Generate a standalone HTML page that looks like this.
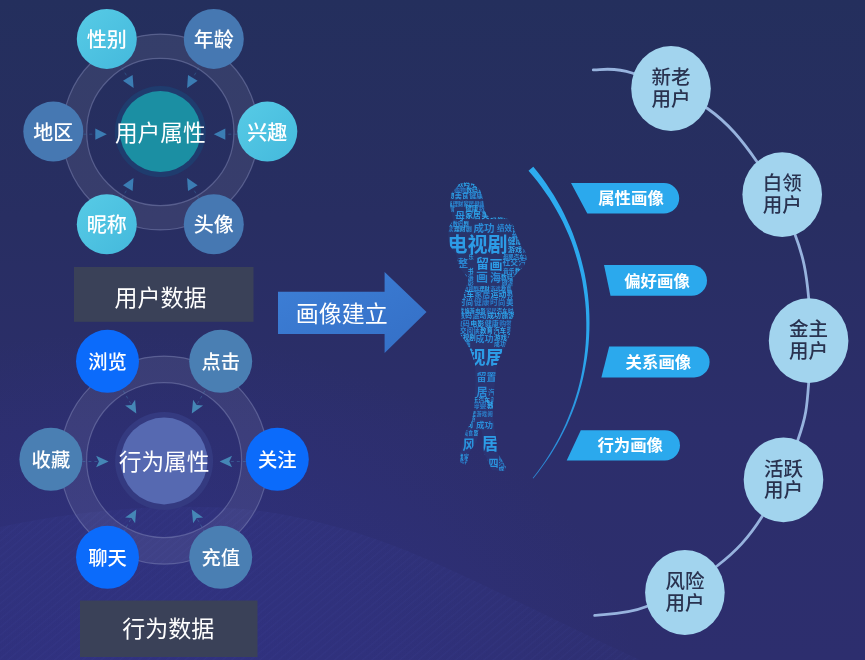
<!DOCTYPE html>
<html lang="zh-CN">
<head>
<meta charset="utf-8">
<title>用户画像</title>
<style>
html,body{margin:0;padding:0;background:#262f62;}
body{width:865px;height:660px;overflow:hidden;font-family:"Liberation Sans","Noto Sans CJK SC",sans-serif;}
svg{display:block;font-family:"Liberation Sans","Noto Sans CJK SC",sans-serif;will-change:transform;}
</style>
</head>
<body>
<svg width="865" height="660" viewBox="0 0 865 660">
<defs>
<linearGradient id="gbg" x1="0" y1="0" x2="0" y2="1">
<stop offset="0" stop-color="#242f5d"/>
<stop offset="0.33" stop-color="#282e62"/>
<stop offset="0.65" stop-color="#2c2e6b"/>
<stop offset="1" stop-color="#2d2e6e"/>
</linearGradient>
<radialGradient id="gbl" cx="0.15" cy="1.1" r="0.6">
<stop offset="0" stop-color="#34359a" stop-opacity="0.42"/>
<stop offset="0.55" stop-color="#34359a" stop-opacity="0.25"/>
<stop offset="1" stop-color="#34359a" stop-opacity="0"/>
</radialGradient>
<linearGradient id="ghill" x1="0" y1="0" x2="0" y2="1">
<stop offset="0" stop-color="#3a3f98" stop-opacity="0.16"/>
<stop offset="1" stop-color="#363a90" stop-opacity="0.1"/>
</linearGradient>
<pattern id="pstripe" width="6" height="6" patternUnits="userSpaceOnUse" patternTransform="rotate(-40)">
<rect width="6" height="1.2" fill="#4a52b0" fill-opacity="0.35"/>
</pattern>
<linearGradient id="gcres" gradientUnits="userSpaceOnUse" x1="0" y1="166" x2="0" y2="479">
<stop offset="0" stop-color="#2dacef"/>
<stop offset="0.6" stop-color="#2ba6ec"/>
<stop offset="1" stop-color="#2a86d4"/>
</linearGradient>
<linearGradient id="gcy" x1="0" y1="0" x2="1" y2="1">
<stop offset="0" stop-color="#57cbe6"/>
<stop offset="1" stop-color="#44b9dc"/>
</linearGradient>
<linearGradient id="garrow" x1="0" y1="0" x2="1" y2="1">
<stop offset="0" stop-color="#3d7fd6"/>
<stop offset="1" stop-color="#346fc6"/>
</linearGradient>
</defs>
<rect width="865" height="660" fill="url(#gbg)"/>
<rect width="865" height="660" fill="url(#gbl)"/>
<path d="M0,527 C90,508 190,501 268,512 C350,525 410,551 453,571 C515,599 575,630 640,660 L0,660 Z" fill="url(#ghill)"/>
<path d="M0,527 C90,508 190,501 268,512 C350,525 410,551 453,571 C515,599 575,630 640,660 L0,660 Z" fill="url(#pstripe)" opacity="0.25"/>
<circle cx="160.3" cy="132.0" r="85.75" fill="none" stroke="#ffffff" stroke-opacity="0.075" stroke-width="24.30000000000001"/>
<circle cx="160.3" cy="132.0" r="97.9" fill="none" stroke="#8f96c4" stroke-opacity="0.42" stroke-width="1.2"/>
<circle cx="160.3" cy="132.0" r="73.6" fill="none" stroke="#8f96c4" stroke-opacity="0.42" stroke-width="1.2"/>
<line x1="121.8" y1="67.5" x2="129.1" y2="80.1" stroke="#3b7db4" stroke-opacity="0.4" stroke-width="1" stroke-dasharray="3 3"/>
<polygon points="133.6,87.9 132.6,75.1 123.0,80.7" fill="#3b7db4"/>
<line x1="198.8" y1="67.5" x2="191.6" y2="80.1" stroke="#3b7db4" stroke-opacity="0.4" stroke-width="1" stroke-dasharray="3 3"/>
<polygon points="187.1,87.9 197.6,80.7 188.0,75.1" fill="#3b7db4"/>
<line x1="237.3" y1="134.2" x2="222.8" y2="134.2" stroke="#3b7db4" stroke-opacity="0.4" stroke-width="1" stroke-dasharray="3 3"/>
<polygon points="213.8,134.2 225.3,139.8 225.3,128.6" fill="#3b7db4"/>
<line x1="198.8" y1="198.5" x2="191.6" y2="185.9" stroke="#3b7db4" stroke-opacity="0.4" stroke-width="1" stroke-dasharray="3 3"/>
<polygon points="187.1,178.1 188.0,190.9 197.6,185.3" fill="#3b7db4"/>
<line x1="121.8" y1="198.5" x2="129.0" y2="185.9" stroke="#3b7db4" stroke-opacity="0.4" stroke-width="1" stroke-dasharray="3 3"/>
<polygon points="133.5,178.1 123.0,185.3 132.6,190.9" fill="#3b7db4"/>
<line x1="83.3" y1="134.2" x2="97.8" y2="134.2" stroke="#3b7db4" stroke-opacity="0.4" stroke-width="1" stroke-dasharray="3 3"/>
<polygon points="106.8,134.2 95.3,128.6 95.3,139.8" fill="#3b7db4"/>
<circle cx="160.3" cy="131.6" r="45.5" fill="#1f3c6e"/>
<circle cx="160.3" cy="131.6" r="40.5" fill="#1b8fa3"/>
<text x="160.3" y="140.8" font-size="22.7" fill="#fff" text-anchor="middle">用户属性</text>
<circle cx="106.8" cy="38.9" r="30" fill="url(#gcy)"/>
<text x="106.8" y="47.0" font-size="20" font-weight="500" fill="#fff" text-anchor="middle">性别</text>
<circle cx="213.8" cy="38.9" r="30" fill="#4678b2"/>
<text x="213.8" y="47.0" font-size="20" font-weight="500" fill="#fff" text-anchor="middle">年龄</text>
<circle cx="267.3" cy="131.6" r="30" fill="url(#gcy)"/>
<text x="267.3" y="139.7" font-size="20" font-weight="500" fill="#fff" text-anchor="middle">兴趣</text>
<circle cx="213.8" cy="224.3" r="30" fill="#4678b2"/>
<text x="213.8" y="232.4" font-size="20" font-weight="500" fill="#fff" text-anchor="middle">头像</text>
<circle cx="106.8" cy="224.3" r="30" fill="url(#gcy)"/>
<text x="106.8" y="232.4" font-size="20" font-weight="500" fill="#fff" text-anchor="middle">昵称</text>
<circle cx="53.3" cy="131.6" r="30" fill="#4678b2"/>
<text x="53.3" y="139.7" font-size="20" font-weight="500" fill="#fff" text-anchor="middle">地区</text>
<circle cx="164.1" cy="460.1" r="90.75" fill="none" stroke="#ffffff" stroke-opacity="0.075" stroke-width="26.5"/>
<circle cx="164.1" cy="460.1" r="104" fill="none" stroke="#8f96c4" stroke-opacity="0.42" stroke-width="1.2"/>
<circle cx="164.1" cy="460.1" r="77.5" fill="none" stroke="#8f96c4" stroke-opacity="0.42" stroke-width="1.2"/>
<line x1="123.3" y1="390.7" x2="131.9" y2="405.6" stroke="#4587b6" stroke-opacity="0.4" stroke-width="1" stroke-dasharray="3 3"/>
<polygon points="136.3,413.4 135.1,399.7 131.5,405.0 125.1,405.5" fill="#4587b6"/>
<line x1="204.9" y1="390.7" x2="196.3" y2="405.6" stroke="#4587b6" stroke-opacity="0.4" stroke-width="1" stroke-dasharray="3 3"/>
<polygon points="191.8,413.4 203.1,405.5 196.7,405.0 193.1,399.7" fill="#4587b6"/>
<line x1="245.8" y1="461.5" x2="228.6" y2="461.5" stroke="#4587b6" stroke-opacity="0.4" stroke-width="1" stroke-dasharray="3 3"/>
<polygon points="219.6,461.5 232.1,467.3 229.3,461.5 232.1,455.7" fill="#4587b6"/>
<line x1="204.9" y1="532.3" x2="196.3" y2="517.4" stroke="#4587b6" stroke-opacity="0.4" stroke-width="1" stroke-dasharray="3 3"/>
<polygon points="191.8,509.6 193.1,523.3 196.7,518.0 203.1,517.5" fill="#4587b6"/>
<line x1="123.2" y1="532.3" x2="131.8" y2="517.4" stroke="#4587b6" stroke-opacity="0.4" stroke-width="1" stroke-dasharray="3 3"/>
<polygon points="136.3,509.6 125.1,517.5 131.5,518.0 135.1,523.3" fill="#4587b6"/>
<line x1="82.4" y1="461.5" x2="99.6" y2="461.5" stroke="#4587b6" stroke-opacity="0.4" stroke-width="1" stroke-dasharray="3 3"/>
<polygon points="108.6,461.5 96.1,455.7 98.9,461.5 96.1,467.3" fill="#4587b6"/>
<circle cx="164.1" cy="461.0" r="49" fill="#343a80"/>
<circle cx="164.1" cy="461.0" r="43.4" fill="#5669b1"/>
<text x="164.1" y="469.9" font-size="22.7" fill="#fff" text-anchor="middle">行为属性</text>
<circle cx="107.5" cy="361.3" r="31.5" fill="#0b6bfb"/>
<text x="107.5" y="369.1" font-size="19.3" font-weight="500" fill="#fff" text-anchor="middle">浏览</text>
<circle cx="220.7" cy="361.3" r="31.5" fill="#4a7fb3"/>
<text x="220.7" y="369.1" font-size="19.3" font-weight="500" fill="#fff" text-anchor="middle">点击</text>
<circle cx="277.3" cy="459.3" r="31.5" fill="#0b6bfb"/>
<text x="277.3" y="467.1" font-size="19.3" font-weight="500" fill="#fff" text-anchor="middle">关注</text>
<circle cx="220.7" cy="557.3" r="31.5" fill="#4a7fb3"/>
<text x="220.7" y="565.2" font-size="19.3" font-weight="500" fill="#fff" text-anchor="middle">充值</text>
<circle cx="107.5" cy="557.3" r="31.5" fill="#0b6bfb"/>
<text x="107.5" y="565.2" font-size="19.3" font-weight="500" fill="#fff" text-anchor="middle">聊天</text>
<circle cx="50.9" cy="459.3" r="31.5" fill="#4a7fb3"/>
<text x="50.9" y="467.1" font-size="19.3" font-weight="500" fill="#fff" text-anchor="middle">收藏</text>
<rect x="74" y="267" width="179.5" height="54.8" fill="#3a4158"/>
<text x="160.5" y="305.7" font-size="23" fill="#fff" text-anchor="middle">用户数据</text>
<rect x="80" y="600.5" width="177.5" height="56.5" fill="#3a4158"/>
<text x="168.3" y="637.3" font-size="23" fill="#fff" text-anchor="middle">行为数据</text>
<polygon points="278,291.8 384.6,291.8 384.6,271.9 426.5,312 384.6,353 384.6,334 278,334" fill="url(#garrow)"/>
<text x="341.8" y="322.2" font-size="23" fill="#fff" text-anchor="middle">画像建立</text>
<path d="M533.3,166.7 L537.8,172.2 L542.0,177.8 L546.1,183.5 L550.0,189.4 L553.8,195.3 L557.4,201.4 L560.8,207.6 L564.0,213.8 L567.0,220.2 L569.9,226.6 L572.6,233.1 L575.0,239.7 L577.3,246.4 L579.4,253.1 L581.3,259.9 L583.0,266.7 L584.6,273.6 L585.9,280.5 L587.0,287.5 L587.9,294.5 L588.6,301.5 L589.1,308.5 L589.4,315.5 L589.5,322.6 L589.4,329.6 L589.1,336.6 L588.6,343.7 L587.9,350.7 L587.0,357.7 L585.8,364.6 L584.5,371.5 L583.0,378.4 L581.3,385.2 L579.4,392.0 L577.3,398.7 L575.0,405.4 L572.5,412.0 L569.8,418.5 L567.0,424.9 L563.9,431.3 L560.7,437.5 L557.3,443.7 L553.7,449.8 L550.0,455.7 L546.0,461.6 L541.9,467.3 L537.7,472.9 L533.3,478.4 L532.7,478.0 L537.0,472.4 L541.2,466.8 L545.2,461.0 L549.0,455.1 L552.7,449.1 L556.1,443.1 L559.4,436.9 L562.6,430.6 L565.5,424.2 L568.2,417.8 L570.8,411.3 L573.2,404.7 L575.4,398.1 L577.4,391.4 L579.2,384.7 L580.8,377.9 L582.2,371.0 L583.3,364.2 L584.3,357.3 L585.1,350.4 L585.7,343.4 L586.1,336.5 L586.3,329.5 L586.3,322.6 L586.1,315.6 L585.8,308.7 L585.2,301.8 L584.4,294.9 L583.4,288.0 L582.3,281.1 L580.9,274.3 L579.3,267.6 L577.6,260.9 L575.6,254.2 L573.5,247.6 L571.2,241.1 L568.6,234.7 L565.8,228.4 L562.9,222.1 L559.7,216.0 L556.4,209.9 L552.9,203.9 L549.3,198.1 L545.4,192.4 L541.4,186.8 L537.3,181.3 L533.0,175.9 L528.5,170.7 Z" fill="url(#gcres)"/>
<path d="M571,183 L663.9000000000001,183 A15.299999999999997,15.299999999999997 0 0 1 663.9000000000001,213.6 L587.3,213.6 Z" fill="#2ba9ed"/>
<text x="631" y="204.1" font-size="16.4" font-weight="bold" fill="#fff" text-anchor="middle">属性画像</text>
<path d="M604,265 L691.6,265 A15.400000000000006,15.400000000000006 0 0 1 691.6,295.8 L610.5,295.8 Z" fill="#2ba9ed"/>
<text x="657" y="287.3" font-size="16.4" font-weight="bold" fill="#fff" text-anchor="middle">偏好画像</text>
<path d="M609.2,346.5 L694.1500000000001,346.5 A15.449999999999989,15.449999999999989 0 0 1 694.1500000000001,377.4 L601.4,377.4 Z" fill="#2ba9ed"/>
<text x="658.4" y="368.4" font-size="16.4" font-weight="bold" fill="#fff" text-anchor="middle">关系画像</text>
<path d="M580.8,430.2 L664.9,430.2 A15.099999999999994,15.099999999999994 0 0 1 664.9,460.4 L566.7,460.4 Z" fill="#2ba9ed"/>
<text x="630.2" y="451.4" font-size="16.4" font-weight="bold" fill="#fff" text-anchor="middle">行为画像</text>
<path d="M593.3,69.8 C599.8,70.3 613.0,66.5 632.0,73.0 C651.0,79.5 686.7,93.8 707.5,108.5 C728.3,123.2 742.1,140.3 756.6,161.2 C771.1,182.1 786.1,211.3 794.8,234.0 C803.5,256.7 806.3,272.3 808.6,297.3 C810.9,322.3 810.3,360.4 808.6,384.0 C806.9,407.6 806.0,416.8 798.2,439.0 C790.4,461.2 775.3,495.8 761.8,517.0 C748.3,538.2 736.3,551.0 717.0,566.0 C697.7,581.0 666.3,598.6 645.9,606.8 C625.5,615.0 603.2,614.0 594.7,615.4" fill="none" stroke="#97b3de" stroke-width="2.8" stroke-linecap="round"/>
<ellipse cx="671" cy="88.5" rx="39.8" ry="42.4" fill="#a2d4ee"/>
<text x="671" y="84.2" font-size="19.5" font-weight="500" fill="#29324f" text-anchor="middle">新老</text>
<text x="671" y="106.0" font-size="19.5" font-weight="500" fill="#29324f" text-anchor="middle">用户</text>
<ellipse cx="782.2" cy="194.6" rx="39.8" ry="42.4" fill="#a2d4ee"/>
<text x="782.2" y="190.3" font-size="19.5" font-weight="500" fill="#29324f" text-anchor="middle">白领</text>
<text x="782.2" y="212.1" font-size="19.5" font-weight="500" fill="#29324f" text-anchor="middle">用户</text>
<ellipse cx="808.6" cy="340.7" rx="39.8" ry="42.4" fill="#a2d4ee"/>
<text x="808.6" y="336.4" font-size="19.5" font-weight="500" fill="#29324f" text-anchor="middle">金主</text>
<text x="808.6" y="358.2" font-size="19.5" font-weight="500" fill="#29324f" text-anchor="middle">用户</text>
<ellipse cx="783.5" cy="479.8" rx="39.8" ry="42.4" fill="#a2d4ee"/>
<text x="783.5" y="475.5" font-size="19.5" font-weight="500" fill="#29324f" text-anchor="middle">活跃</text>
<text x="783.5" y="497.3" font-size="19.5" font-weight="500" fill="#29324f" text-anchor="middle">用户</text>
<ellipse cx="684.9" cy="592.5" rx="39.8" ry="42.4" fill="#a2d4ee"/>
<text x="684.9" y="588.2" font-size="19.5" font-weight="500" fill="#29324f" text-anchor="middle">风险</text>
<text x="684.9" y="610.0" font-size="19.5" font-weight="500" fill="#29324f" text-anchor="middle">用户</text>
<clipPath id="sil"><path d="M466,182 L474,184 L480,190 L483,198 L484,206 L486,214 L490,218 L500,217 L508,219 L513,225 L516,234 L520,243 L525,251 L527,259 L524,266 L518,272 L513,278 L512,290 L513,302 L514,315 L511,322 L510,334 L506,344 L502,352 L497,364 L495,380 L493,405 L493,420 L495,432 L496.5,441 L497.6,453 L502,460 L506,467 L504,471 L492,470 L488,461 L484,453 L483,441 L482,432 L480,428 L478,432 L477,441 L469,453 L467.5,461 L465,465 L460,462 L460.5,453 L463.5,441 L466,431 L472,421 L474.5,405 L475.5,380 L475,364 L471,352 L467,344 L460,334 L461,320 L461.5,315 L461,303 L465,291 L468.5,279 L459,267 L456,254 L450,246 L448,236 L449.5,226 L453,220 L450,205 L451.5,193 L459,184 Z"/></clipPath>
<g clip-path="url(#sil)" font-weight="bold">
<rect x="440" y="175" width="95" height="300" fill="#2a7bc8" fill-opacity="0.09"/>
<text x="443.8" y="185.5" font-size="6.4" fill="#2ca2e8">理财</text>
<text x="457.1" y="185.5" font-size="6.4" fill="#2ca2e8">数码</text>
<text x="470.4" y="185.5" font-size="6.4" fill="#2ca2e8">电影</text>
<text x="483.7" y="185.5" font-size="6.4" fill="#2ca2e8">电影</text>
<text x="497.0" y="185.5" font-size="6.4" fill="#2ca2e8">健康</text>
<text x="510.3" y="185.5" font-size="6.4" fill="#2b84cf">社交</text>
<text x="523.6" y="185.5" font-size="6.4" fill="#2b84cf">音乐</text>
<text x="442.0" y="192.2" font-size="5.8" fill="#2a78c4">健康</text>
<text x="454.1" y="192.2" font-size="5.8" fill="#2a78c4">购物</text>
<text x="466.2" y="192.2" font-size="5.8" fill="#2ca2e8">数码</text>
<text x="478.3" y="192.2" font-size="5.8" fill="#30a6ec">家居</text>
<text x="490.4" y="192.2" font-size="5.8" fill="#2b84cf">教育</text>
<text x="502.5" y="192.2" font-size="5.8" fill="#30a6ec">时尚</text>
<text x="514.6" y="192.2" font-size="5.8" fill="#2ca2e8">母婴</text>
<text x="526.7" y="192.2" font-size="5.8" fill="#2ca2e8">运动</text>
<text x="440.2" y="198.2" font-size="7" fill="#2ca2e8">购物</text>
<text x="454.7" y="198.2" font-size="7" fill="#2c94de">美食</text>
<text x="469.2" y="198.2" font-size="7" fill="#2b8cd6">健康</text>
<text x="483.7" y="198.2" font-size="7" fill="#2b8cd6">旅游</text>
<text x="498.2" y="198.2" font-size="7" fill="#2b8cd6">电视剧</text>
<text x="519.7" y="198.2" font-size="7" fill="#2b84cf">教育</text>
<text x="441.8" y="205.5" font-size="5.2" fill="#30a6ec">健康</text>
<text x="452.7" y="205.5" font-size="5.2" fill="#2b8cd6">理财</text>
<text x="463.6" y="205.5" font-size="5.2" fill="#2b8cd6">家居</text>
<text x="474.5" y="205.5" font-size="5.2" fill="#2b84cf">健康</text>
<text x="485.4" y="205.5" font-size="5.2" fill="#30a6ec">理财</text>
<text x="496.3" y="205.5" font-size="5.2" fill="#2a78c4">家居</text>
<text x="507.2" y="205.5" font-size="5.2" fill="#30a6ec">母婴</text>
<text x="518.1" y="205.5" font-size="5.2" fill="#2b8cd6">美食</text>
<text x="529.0" y="205.5" font-size="5.2" fill="#2ca2e8">健康</text>
<text x="442.1" y="210.9" font-size="6.4" fill="#2b8cd6">美食</text>
<text x="465.4" y="210.9" font-size="6.4" fill="#2ca2e8">健康</text>
<text x="478.7" y="210.9" font-size="6.4" fill="#2a78c4">数码</text>
<text x="492.0" y="210.9" font-size="6.4" fill="#2a78c4">音乐</text>
<text x="505.3" y="210.9" font-size="6.4" fill="#30a6ec">健康</text>
<text x="518.6" y="210.9" font-size="6.4" fill="#2b8cd6">社交</text>
<text x="442.0" y="217.6" font-size="7.8" fill="#30a6ec">视</text>
<text x="465.3" y="217.6" font-size="7.8" fill="#2ca2e8">家居</text>
<text x="481.4" y="217.6" font-size="7.8" fill="#30a6ec">美食</text>
<text x="497.5" y="217.6" font-size="7.8" fill="#2ca2e8">旅游</text>
<text x="513.6" y="217.6" font-size="7.8" fill="#2ca2e8">游戏</text>
<text x="529.7" y="217.6" font-size="7.8" fill="#2c94de">母婴</text>
<text x="441.8" y="225.6" font-size="5.2" fill="#2ca2e8">阅读</text>
<text x="452.7" y="225.6" font-size="5.2" fill="#2b8cd6">数码</text>
<text x="463.6" y="225.6" font-size="5.2" fill="#30a6ec">剧</text>
<text x="512.3" y="225.6" font-size="5.2" fill="#30a6ec">健康</text>
<text x="523.2" y="225.6" font-size="5.2" fill="#2b8cd6">直播</text>
<text x="441.9" y="231.1" font-size="5.8" fill="#2a78c4">阅读</text>
<text x="454.0" y="231.1" font-size="5.8" fill="#30a6ec">理财</text>
<text x="466.1" y="231.1" font-size="5.8" fill="#2c94de">剧</text>
<text x="512.4" y="231.1" font-size="5.8" fill="#30a6ec">汽车</text>
<text x="524.5" y="231.1" font-size="5.8" fill="#2a78c4">美食</text>
<text x="511.8" y="237.1" font-size="6.4" fill="#2b8cd6">母婴</text>
<text x="525.1" y="237.1" font-size="6.4" fill="#2a78c4">成功</text>
<text x="507.7" y="243.8" font-size="7.8" fill="#30a6ec">健康</text>
<text x="523.8" y="243.8" font-size="7.8" fill="#2ca2e8">时尚</text>
<text x="508.0" y="251.8" font-size="7" fill="#30a6ec">游戏</text>
<text x="522.5" y="251.8" font-size="7" fill="#2b84cf">家居</text>
<text x="442.5" y="259.1" font-size="5.2" fill="#2c94de">音乐</text>
<text x="468.4" y="259.1" font-size="5.2" fill="#2ca2e8">乐</text>
<text x="503.1" y="259.1" font-size="5.2" fill="#2c94de">母婴</text>
<text x="514.0" y="259.1" font-size="5.2" fill="#2ca2e8">汽车</text>
<text x="524.9" y="259.1" font-size="5.2" fill="#2b8cd6">旅游</text>
<text x="442.4" y="264.5" font-size="7.8" fill="#2ca2e8">游戏</text>
<text x="502.5" y="264.5" font-size="7.8" fill="#2b8cd6">社交</text>
<text x="518.6" y="264.5" font-size="7.8" fill="#2b84cf">汽车</text>
<text x="441.6" y="272.6" font-size="5.8" fill="#2ca2e8">数码</text>
<text x="467.7" y="272.6" font-size="5.8" fill="#2ca2e8">书</text>
<text x="503.0" y="272.6" font-size="5.8" fill="#2c94de">音乐</text>
<text x="515.1" y="272.6" font-size="5.8" fill="#2ca2e8">数码</text>
<text x="527.2" y="272.6" font-size="5.8" fill="#2ca2e8">数码</text>
<text x="443.6" y="278.6" font-size="5.8" fill="#2ca2e8">美食</text>
<text x="455.7" y="278.6" font-size="5.8" fill="#2a78c4">运动</text>
<text x="467.8" y="278.6" font-size="5.8" fill="#2b84cf">海</text>
<text x="501.1" y="278.6" font-size="5.8" fill="#2ca2e8">数码</text>
<text x="513.2" y="278.6" font-size="5.8" fill="#30a6ec">音乐</text>
<text x="525.3" y="278.6" font-size="5.8" fill="#30a6ec">理财</text>
<text x="440.9" y="284.7" font-size="6.4" fill="#2b8cd6">电影</text>
<text x="454.2" y="284.7" font-size="6.4" fill="#2a78c4">游戏</text>
<text x="467.5" y="284.7" font-size="6.4" fill="#2b84cf">影</text>
<text x="501.4" y="284.7" font-size="6.4" fill="#2b8cd6">旅游</text>
<text x="514.7" y="284.7" font-size="6.4" fill="#2c94de">家居</text>
<text x="528.0" y="284.7" font-size="6.4" fill="#2b84cf">美食</text>
<text x="441.4" y="291.3" font-size="5.2" fill="#2c94de">电影</text>
<text x="452.3" y="291.3" font-size="5.2" fill="#2ca2e8">理财</text>
<text x="463.2" y="291.3" font-size="5.2" fill="#2b84cf">电视剧</text>
<text x="479.3" y="291.3" font-size="5.2" fill="#2ca2e8">理财</text>
<text x="490.2" y="291.3" font-size="5.2" fill="#2a78c4">游戏</text>
<text x="501.1" y="291.3" font-size="5.2" fill="#2c94de">教育</text>
<text x="512.0" y="291.3" font-size="5.2" fill="#2ca2e8">美食</text>
<text x="522.9" y="291.3" font-size="5.2" fill="#2ca2e8">阅读</text>
<text x="442.4" y="296.8" font-size="7.8" fill="#2ca2e8">汽车</text>
<text x="458.5" y="296.8" font-size="7.8" fill="#2ca2e8">汽车</text>
<text x="474.6" y="296.8" font-size="7.8" fill="#2b84cf">家居</text>
<text x="490.7" y="296.8" font-size="7.8" fill="#2ca2e8">运动</text>
<text x="506.8" y="296.8" font-size="7.8" fill="#2b8cd6">教育</text>
<text x="522.9" y="296.8" font-size="7.8" fill="#2b8cd6">音乐</text>
<text x="441.7" y="304.8" font-size="7.8" fill="#2ca2e8">家居</text>
<text x="457.8" y="304.8" font-size="7.8" fill="#2b8cd6">时尚</text>
<text x="473.9" y="304.8" font-size="7.8" fill="#2a78c4">健康</text>
<text x="490.0" y="304.8" font-size="7.8" fill="#2a78c4">时尚</text>
<text x="506.1" y="304.8" font-size="7.8" fill="#2b8cd6">美食</text>
<text x="522.2" y="304.8" font-size="7.8" fill="#2a78c4">数码</text>
<text x="442.6" y="312.9" font-size="5.2" fill="#2c94de">健康</text>
<text x="453.5" y="312.9" font-size="5.2" fill="#30a6ec">游戏</text>
<text x="464.4" y="312.9" font-size="5.2" fill="#2ca2e8">旅游</text>
<text x="475.3" y="312.9" font-size="5.2" fill="#2ca2e8">电影</text>
<text x="486.2" y="312.9" font-size="5.2" fill="#2a78c4">家居</text>
<text x="497.1" y="312.9" font-size="5.2" fill="#30a6ec">汽车</text>
<text x="508.0" y="312.9" font-size="5.2" fill="#2c94de">时尚</text>
<text x="518.9" y="312.9" font-size="5.2" fill="#2b84cf">理财</text>
<text x="529.8" y="312.9" font-size="5.2" fill="#2a78c4">阅读</text>
<text x="443.4" y="318.3" font-size="7" fill="#2c94de">运动</text>
<text x="457.9" y="318.3" font-size="7" fill="#2c94de">数码</text>
<text x="472.4" y="318.3" font-size="7" fill="#2b8cd6">运动</text>
<text x="486.9" y="318.3" font-size="7" fill="#30a6ec">成功</text>
<text x="501.4" y="318.3" font-size="7" fill="#2ca2e8">旅游</text>
<text x="515.9" y="318.3" font-size="7" fill="#2a78c4">数码</text>
<text x="441.2" y="325.6" font-size="7" fill="#2c94de">汽车</text>
<text x="455.7" y="325.6" font-size="7" fill="#2b84cf">数码</text>
<text x="470.2" y="325.6" font-size="7" fill="#2ca2e8">电影</text>
<text x="484.7" y="325.6" font-size="7" fill="#2b8cd6">健康</text>
<text x="499.2" y="325.6" font-size="7" fill="#2a78c4">购物</text>
<text x="513.7" y="325.6" font-size="7" fill="#2b8cd6">汽车</text>
<text x="528.2" y="325.6" font-size="7" fill="#30a6ec">教育</text>
<text x="440.2" y="332.8" font-size="6.4" fill="#30a6ec">购物</text>
<text x="453.5" y="332.8" font-size="6.4" fill="#2b8cd6">社交</text>
<text x="466.8" y="332.8" font-size="6.4" fill="#2b84cf">阅读</text>
<text x="480.1" y="332.8" font-size="6.4" fill="#30a6ec">教育</text>
<text x="493.4" y="332.8" font-size="6.4" fill="#30a6ec">汽车</text>
<text x="506.7" y="332.8" font-size="6.4" fill="#2b8cd6">理财</text>
<text x="520.0" y="332.8" font-size="6.4" fill="#2b84cf">音乐</text>
<text x="443.1" y="339.5" font-size="6.4" fill="#2c94de">汽车</text>
<text x="456.4" y="339.5" font-size="6.4" fill="#30a6ec">电视剧</text>
<text x="494.1" y="339.5" font-size="6.4" fill="#2ca2e8">游戏</text>
<text x="507.4" y="339.5" font-size="6.4" fill="#2ca2e8">美食</text>
<text x="520.7" y="339.5" font-size="6.4" fill="#2c94de">健康</text>
<text x="440.6" y="346.1" font-size="5.8" fill="#2ca2e8">电影</text>
<text x="452.7" y="346.1" font-size="5.8" fill="#2b8cd6">购物</text>
<text x="464.8" y="346.1" font-size="5.8" fill="#2c94de">画</text>
<text x="494.1" y="346.1" font-size="5.8" fill="#2b8cd6">成功</text>
<text x="506.2" y="346.1" font-size="5.8" fill="#2b84cf">直播</text>
<text x="518.3" y="346.1" font-size="5.8" fill="#2ca2e8">美食</text>
<text x="440.6" y="352.2" font-size="5.8" fill="#2b8cd6">数码</text>
<text x="452.7" y="352.2" font-size="5.8" fill="#30a6ec">电影</text>
<text x="503.8" y="352.2" font-size="5.8" fill="#2a78c4">游戏</text>
<text x="515.9" y="352.2" font-size="5.8" fill="#2ca2e8">运动</text>
<text x="528.0" y="352.2" font-size="5.8" fill="#2b8cd6">直播</text>
<text x="443.1" y="358.2" font-size="5.2" fill="#2a78c4">理财</text>
<text x="454.0" y="358.2" font-size="5.2" fill="#2a78c4">美食</text>
<text x="503.9" y="358.2" font-size="5.2" fill="#2b84cf">理财</text>
<text x="514.8" y="358.2" font-size="5.2" fill="#2ca2e8">电影</text>
<text x="525.7" y="358.2" font-size="5.2" fill="#2ca2e8">汽车</text>
<text x="442.6" y="363.7" font-size="7.8" fill="#30a6ec">教育</text>
<text x="458.7" y="363.7" font-size="7.8" fill="#2b84cf">乐</text>
<text x="504.0" y="363.7" font-size="7.8" fill="#2ca2e8">电视剧</text>
<text x="527.9" y="363.7" font-size="7.8" fill="#2b8cd6">美食</text>
<text x="442.7" y="371.7" font-size="7.8" fill="#2ca2e8">电影</text>
<text x="458.8" y="371.7" font-size="7.8" fill="#30a6ec">剧</text>
<text x="504.1" y="371.7" font-size="7.8" fill="#2c94de">母婴</text>
<text x="520.2" y="371.7" font-size="7.8" fill="#2b8cd6">电视剧</text>
<text x="443.8" y="379.8" font-size="7" fill="#30a6ec">电影</text>
<text x="458.3" y="379.8" font-size="7" fill="#30a6ec">旅游</text>
<text x="496.8" y="379.8" font-size="7" fill="#2a78c4">直播</text>
<text x="511.3" y="379.8" font-size="7" fill="#2c94de">旅游</text>
<text x="525.8" y="379.8" font-size="7" fill="#2ca2e8">购物</text>
<text x="441.3" y="387.0" font-size="7.8" fill="#2b8cd6">购物</text>
<text x="457.4" y="387.0" font-size="7.8" fill="#2c94de">电影</text>
<text x="496.5" y="387.0" font-size="7.8" fill="#2ca2e8">理财</text>
<text x="512.6" y="387.0" font-size="7.8" fill="#2c94de">阅读</text>
<text x="528.7" y="387.0" font-size="7.8" fill="#2c94de">健康</text>
<text x="443.1" y="395.1" font-size="7" fill="#2ca2e8">音乐</text>
<text x="457.6" y="395.1" font-size="7" fill="#2b84cf">阅读</text>
<text x="488.1" y="395.1" font-size="7" fill="#2b84cf">汽车</text>
<text x="502.6" y="395.1" font-size="7" fill="#30a6ec">游戏</text>
<text x="517.1" y="395.1" font-size="7" fill="#2ca2e8">成功</text>
<text x="442.2" y="402.3" font-size="5.8" fill="#2c94de">电影</text>
<text x="454.3" y="402.3" font-size="5.8" fill="#2ca2e8">音乐</text>
<text x="466.4" y="402.3" font-size="5.8" fill="#2ca2e8">音乐</text>
<text x="478.5" y="402.3" font-size="5.8" fill="#30a6ec">汽车</text>
<text x="490.6" y="402.3" font-size="5.8" fill="#2b8cd6">美食</text>
<text x="502.7" y="402.3" font-size="5.8" fill="#2a78c4">电影</text>
<text x="514.8" y="402.3" font-size="5.8" fill="#2b8cd6">购物</text>
<text x="526.9" y="402.3" font-size="5.8" fill="#30a6ec">社交</text>
<text x="443.4" y="408.4" font-size="7" fill="#2b8cd6">社交</text>
<text x="457.9" y="408.4" font-size="7" fill="#2b8cd6">时尚</text>
<text x="472.4" y="408.4" font-size="7" fill="#2a78c4">母婴</text>
<text x="486.9" y="408.4" font-size="7" fill="#30a6ec">教育</text>
<text x="501.4" y="408.4" font-size="7" fill="#2a78c4">社交</text>
<text x="515.9" y="408.4" font-size="7" fill="#2ca2e8">数码</text>
<text x="443.8" y="415.6" font-size="5.2" fill="#2ca2e8">旅游</text>
<text x="454.7" y="415.6" font-size="5.2" fill="#2a78c4">电影</text>
<text x="465.6" y="415.6" font-size="5.2" fill="#30a6ec">家居</text>
<text x="476.5" y="415.6" font-size="5.2" fill="#2b84cf">游戏</text>
<text x="487.4" y="415.6" font-size="5.2" fill="#2b84cf">阅读</text>
<text x="498.3" y="415.6" font-size="5.2" fill="#2ca2e8">直播</text>
<text x="509.2" y="415.6" font-size="5.2" fill="#2c94de">运动</text>
<text x="520.1" y="415.6" font-size="5.2" fill="#2b8cd6">时尚</text>
<text x="442.9" y="421.1" font-size="5.2" fill="#30a6ec">旅游</text>
<text x="453.8" y="421.1" font-size="5.2" fill="#2ca2e8">游戏</text>
<text x="464.7" y="421.1" font-size="5.2" fill="#2c94de">旅游</text>
<text x="493.6" y="421.1" font-size="5.2" fill="#2ca2e8">母婴</text>
<text x="504.5" y="421.1" font-size="5.2" fill="#2ca2e8">直播</text>
<text x="515.4" y="421.1" font-size="5.2" fill="#2b8cd6">运动</text>
<text x="526.3" y="421.1" font-size="5.2" fill="#2b84cf">母婴</text>
<text x="441.7" y="426.5" font-size="7.8" fill="#2ca2e8">社交</text>
<text x="457.8" y="426.5" font-size="7.8" fill="#2ca2e8">时尚</text>
<text x="492.9" y="426.5" font-size="7.8" fill="#2b84cf">电影</text>
<text x="509.0" y="426.5" font-size="7.8" fill="#2c94de">母婴</text>
<text x="525.1" y="426.5" font-size="7.8" fill="#2b84cf">电影</text>
<text x="441.1" y="434.6" font-size="5.2" fill="#2b84cf">教育</text>
<text x="452.0" y="434.6" font-size="5.2" fill="#2b8cd6">教育</text>
<text x="462.9" y="434.6" font-size="5.2" fill="#2b84cf">美食</text>
<text x="473.8" y="434.6" font-size="5.2" fill="#2ca2e8">影</text>
<text x="498.5" y="434.6" font-size="5.2" fill="#2ca2e8">汽车</text>
<text x="509.4" y="434.6" font-size="5.2" fill="#2ca2e8">理财</text>
<text x="520.3" y="434.6" font-size="5.2" fill="#2ca2e8">购物</text>
<text x="440.9" y="440.0" font-size="6.4" fill="#2ca2e8">理财</text>
<text x="454.2" y="440.0" font-size="6.4" fill="#30a6ec">书</text>
<text x="499.1" y="440.0" font-size="6.4" fill="#2ca2e8">教育</text>
<text x="512.4" y="440.0" font-size="6.4" fill="#30a6ec">数码</text>
<text x="525.7" y="440.0" font-size="6.4" fill="#2b84cf">电视剧</text>
<text x="443.1" y="446.7" font-size="5.8" fill="#2c94de">时尚</text>
<text x="455.2" y="446.7" font-size="5.8" fill="#2ca2e8">剧</text>
<text x="475.5" y="446.7" font-size="5.8" fill="#2b84cf">风</text>
<text x="498.8" y="446.7" font-size="5.8" fill="#30a6ec">理财</text>
<text x="510.9" y="446.7" font-size="5.8" fill="#2b84cf">美食</text>
<text x="523.0" y="446.7" font-size="5.8" fill="#2a78c4">音乐</text>
<text x="441.4" y="452.7" font-size="6.4" fill="#2c94de">家居</text>
<text x="454.7" y="452.7" font-size="6.4" fill="#2c94de">留</text>
<text x="498.6" y="452.7" font-size="6.4" fill="#2a78c4">社交</text>
<text x="511.9" y="452.7" font-size="6.4" fill="#2ca2e8">数码</text>
<text x="525.2" y="452.7" font-size="6.4" fill="#2ca2e8">电视剧</text>
<text x="442.2" y="459.4" font-size="5.2" fill="#30a6ec">直播</text>
<text x="453.1" y="459.4" font-size="5.2" fill="#2ca2e8">游戏</text>
<text x="464.0" y="459.4" font-size="5.2" fill="#2c94de">家居</text>
<text x="474.9" y="459.4" font-size="5.2" fill="#2b84cf">家居</text>
<text x="498.8" y="459.4" font-size="5.2" fill="#2b8cd6">旅游</text>
<text x="509.7" y="459.4" font-size="5.2" fill="#30a6ec">母婴</text>
<text x="520.6" y="459.4" font-size="5.2" fill="#2b8cd6">阅读</text>
<text x="440.4" y="464.8" font-size="5.8" fill="#2b84cf">社交</text>
<text x="452.5" y="464.8" font-size="5.8" fill="#2a78c4">旅游</text>
<text x="464.6" y="464.8" font-size="5.8" fill="#2b8cd6">母婴</text>
<text x="476.7" y="464.8" font-size="5.8" fill="#2c94de">理财</text>
<text x="498.8" y="464.8" font-size="5.8" fill="#2b8cd6">汽车</text>
<text x="510.9" y="464.8" font-size="5.8" fill="#30a6ec">家居</text>
<text x="523.0" y="464.8" font-size="5.8" fill="#2ca2e8">阅读</text>
<text x="443.3" y="470.9" font-size="5.8" fill="#2ca2e8">成功</text>
<text x="455.4" y="470.9" font-size="5.8" fill="#2b8cd6">电视剧</text>
<text x="473.3" y="470.9" font-size="5.8" fill="#2ca2e8">旅游</text>
<text x="498.4" y="470.9" font-size="5.8" fill="#2c94de">成功</text>
<text x="510.5" y="470.9" font-size="5.8" fill="#2c94de">电影</text>
<text x="522.6" y="470.9" font-size="5.8" fill="#30a6ec">电影</text>
<text x="447.5" y="252" font-size="20" fill="#2c9ce6">电视剧</text>
<text x="473.5" y="232" font-size="10.5" fill="#2a8ad6">成功</text>
<text x="455" y="220" font-size="10" fill="#2a92dc">母</text>
<text x="476" y="268" font-size="13" fill="#2c9ce6">留</text>
<text x="489.5" y="268.5" font-size="13" fill="#2c9ce6">画</text>
<text x="458" y="267" font-size="10" fill="#2a86d2">整</text>
<text x="467" y="364" font-size="18.5" fill="#2c9ce6">视居</text>
<text x="481.5" y="449.5" font-size="17" fill="#2c9ce6">居</text>
<text x="475.5" y="341.5" font-size="9" fill="#2a8ad6">成功</text>
<text x="462.5" y="449" font-size="13" fill="#2a94de">风</text>
<text x="476.5" y="381" font-size="10" fill="#2a8ad6">留置</text>
<text x="488.5" y="467" font-size="10" fill="#2a94de">四</text>
<text x="476" y="282" font-size="12" fill="#2a8ad6">画</text>
<text x="490" y="282" font-size="11" fill="#2a86d2">海</text>
<text x="497" y="231" font-size="7.5" fill="#2a8ad6">绩效</text>
<text x="476.5" y="396" font-size="11" fill="#2a8ad6">居</text>
<text x="476" y="428" font-size="8.5" fill="#2a8ad6">成功</text>
</g>
</svg>
</body>
</html>
